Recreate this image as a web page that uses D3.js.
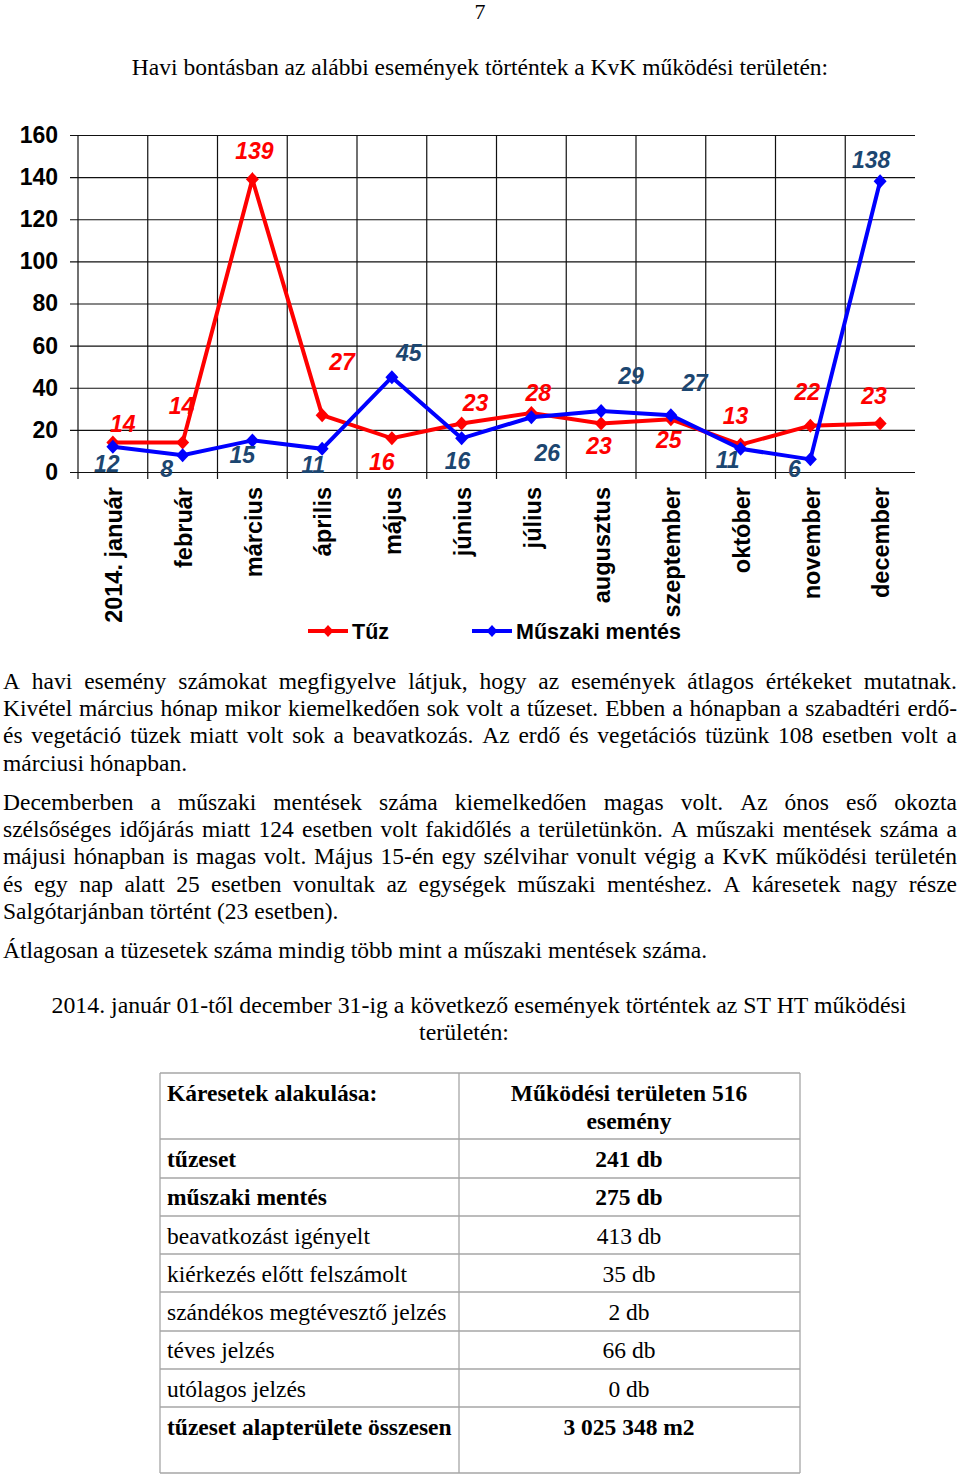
<!DOCTYPE html>
<html>
<head>
<meta charset="utf-8">
<script src="https://cdnjs.cloudflare.com/ajax/libs/d3/7.8.5/d3.min.js"></script>
<style>
  body { margin: 0; background: #fff; }
  svg { display: block; }
</style>
</head>
<body>
<svg id="page" width="960" height="1474"></svg>
<script>
// chart data
var months = ["2014. január", "február", "március", "április", "május", "június",
              "július", "augusztus", "szeptember", "október", "november", "december"];
var tuz = [14, 14, 139, 27, 16, 23, 28, 23, 25, 13, 22, 23];
var muszaki = [12, 8, 15, 11, 45, 16, 26, 29, 27, 11, 6, 138];
var yTicks = [0, 20, 40, 60, 80, 100, 120, 140, 160];

// where each value label sits relative to its point (px)
var tuzLabelOff = [[10,-19],[-1,-37],[2,-29],[20,-53],[-10,23],[14,-21],[7,-20],[-2,22],[-2,20],[-5,-29],[-3,-34],[-6,-28]];
var muszakiLabelOff = [[-6,17],[-16,14],[-10,14],[-9,16],[17,-24],[-4,22],[16,35],[30,-35],[24,-32],[-13,11],[-16,9],[-9,-22]];

// document text
var pageNumber = "7";
var chartTitle = "Havi bontásban az alábbi események történtek a KvK működési területén:";
var paragraphLines = [
  ["A havi esemény számokat megfigyelve látjuk, hogy az események átlagos értékeket mutatnak.", true],
  ["Kivétel március hónap mikor kiemelkedően sok volt a tűzeset. Ebben a hónapban a szabadtéri erdő-", true],
  ["és vegetáció tüzek miatt volt sok a beavatkozás. Az erdő és vegetációs tüzünk 108 esetben volt a", true],
  ["márciusi hónapban.", false],
  ["Decemberben a műszaki mentések száma kiemelkedően magas volt. Az ónos eső okozta", true],
  ["szélsőséges időjárás miatt 124 esetben volt fakidőlés a területünkön. A műszaki mentések száma a", true],
  ["májusi hónapban is magas volt. Május 15-én egy szélvihar vonult végig a KvK működési területén", true],
  ["és egy nap alatt 25 esetben vonultak az egységek műszaki mentéshez. A káresetek nagy része", true],
  ["Salgótarjánban történt (23 esetben).", false],
  ["Átlagosan a tüzesetek száma mindig több mint a műszaki mentések száma.", false]
];
var paragraphY = [681, 708, 735, 763, 802, 829, 856, 884, 911, 950];
var tableTitle = ["2014. január 01-től december 31-ig a következő események történtek az ST HT működési", "területén:"];

var tableHead = ["Káresetek alakulása:", "Működési területen 516", "esemény"];
var tableLabels = ["tűzeset", "műszaki mentés", "beavatkozást igényelt", "kiérkezés előtt felszámolt",
                   "szándékos megtévesztő jelzés", "téves jelzés", "utólagos jelzés", "tűzeset alapterülete összesen"];
var tableValues = ["241 db", "275 db", "413 db", "35 db", "2 db", "66 db", "0 db", "3 025 348 m2"];
var tableBold = [true, true, false, false, false, false, false, true];

var serif = "'Liberation Serif', 'Times New Roman', serif";
var sans = "'Liberation Sans', Arial, sans-serif";
var red = "#ff0000", blue = "#0000ff", blueLabel = "#1c4670";

var svg = d3.select("#page");

// ---------- page header ----------
svg.append("text").attr("x", 480).attr("y", 19).attr("text-anchor", "middle")
   .style("font-family", serif).style("font-size", "22px").text(pageNumber);
svg.append("text").attr("x", 480).attr("y", 75).attr("text-anchor", "middle")
   .style("font-family", serif).style("font-size", "23.5px").text(chartTitle);

// ---------- chart ----------
var x = d3.scaleBand().domain(months).range([78, 915]);
var y = d3.scaleLinear().domain([0, 160]).range([472, 135]);
var cx = function(m) { return x(m) + x.bandwidth() / 2; };

var yAxis = svg.append("g")
    .attr("transform", "translate(70,0)")
    .call(d3.axisLeft(y).tickValues(yTicks).tickSize(-(915 - 70)).tickPadding(12));
yAxis.select(".domain").remove();
yAxis.selectAll("line").attr("stroke", "#111").attr("stroke-width", 1.2);
yAxis.selectAll("text").style("font-family", sans).style("font-size", "23px")
     .style("font-weight", "bold").attr("fill", "#000");

svg.append("g").selectAll("line").data(months).enter().append("line")
   .attr("x1", function(d) { return x(d); }).attr("x2", function(d) { return x(d); })
   .attr("y1", y(160)).attr("y2", y(0) + 7)
   .attr("stroke", "#111").attr("stroke-width", 1.2);

svg.append("g").selectAll("text").data(months).enter().append("text")
   .attr("transform", function(d) { return "translate(" + (cx(d) + 1) + ",487) rotate(-90)"; })
   .attr("text-anchor", "end").attr("dy", "0.35em")
   .style("font-family", sans).style("font-size", "23.5px").style("font-weight", "bold")
   .text(function(d) { return d; });

var diamond = "M0,-7L6.5,0L0,7L-6.5,0Z";
var line = d3.line().x(function(d, i) { return cx(months[i]); }).y(function(d) { return y(d); });

function drawSeries(values, color) {
  var g = svg.append("g");
  g.append("path").datum(values).attr("d", line)
   .attr("fill", "none").attr("stroke", color).attr("stroke-width", 4).attr("stroke-linejoin", "miter");
  g.selectAll("path.pt").data(values).enter().append("path").attr("class", "pt")
   .attr("d", diamond).attr("fill", color)
   .attr("transform", function(d, i) { return "translate(" + cx(months[i]) + "," + y(d) + ")"; });
  return g;
}
function drawLabels(values, labelColor, offs) {
  svg.append("g").selectAll("text").data(values).enter().append("text")
   .attr("x", function(d, i) { return cx(months[i]) + offs[i][0]; })
   .attr("y", function(d, i) { return y(d) + offs[i][1]; })
   .attr("dy", "0.36em").attr("text-anchor", "middle")
   .style("font-family", sans).style("font-size", "23px").style("font-weight", "bold")
   .style("font-style", "italic").attr("fill", labelColor)
   .text(function(d) { return d; });
}
drawSeries(tuz, red);
drawSeries(muszaki, blue);
drawLabels(tuz, red, tuzLabelOff);
drawLabels(muszaki, blueLabel, muszakiLabelOff);

// legend
var legend = [["Tűz", red, 308], ["Műszaki mentés", blue, 472]];
var lg = svg.append("g").selectAll("g").data(legend).enter().append("g")
   .attr("transform", function(d) { return "translate(" + d[2] + ",631)"; });
lg.append("line").attr("x1", 0).attr("x2", 40).attr("stroke", function(d) { return d[1]; }).attr("stroke-width", 4);
lg.append("path").attr("d", "M0,-6L5.5,0L0,6L-5.5,0Z").attr("transform", "translate(20,0)")
  .attr("fill", function(d) { return d[1]; });
lg.append("text").attr("x", 44).attr("dy", "0.36em")
  .style("font-family", sans).style("font-size", "21.5px").style("font-weight", "bold")
  .text(function(d) { return d[0]; });

// ---------- paragraphs (justified by hand) ----------
function textLine(str, xPos, yPos, opts) {
  var t = svg.append("text").attr("x", xPos).attr("y", yPos)
    .style("font-family", serif).style("font-size", opts && opts.size ? opts.size : "23.5px")
    .style("font-weight", opts && opts.bold ? "bold" : "normal")
    .attr("text-anchor", opts && opts.anchor ? opts.anchor : "start")
    .text(str);
  return t;
}
paragraphLines.forEach(function(p, i) {
  var base = paragraphY[i] + 8;
  if (!p[1]) { textLine(p[0], 3, base); return; }
  var words = p[0].split(" ");
  var nodes = words.map(function(w) { return textLine(w, 0, base); });
  var widths = nodes.map(function(n) { return n.node().getComputedTextLength(); });
  var gap = (957 - 3 - d3.sum(widths)) / (words.length - 1);
  var xx = 3;
  nodes.forEach(function(n, k) { n.attr("x", xx); xx += widths[k] + gap; });
});

textLine(tableTitle[0], 479, 1013, {anchor: "middle", size: "23.8px"});
textLine(tableTitle[1], 464, 1040, {anchor: "middle", size: "23.8px"});

// ---------- table ----------
var rowLines = [1073, 1139, 1178, 1216, 1254, 1292, 1331, 1369, 1407, 1473];
var colLines = [160, 459, 800];
var tg = svg.append("g").attr("stroke", "#a6a6a6").attr("stroke-width", 1.3);
tg.selectAll("line.h").data(rowLines).enter().append("line").attr("class", "h")
  .attr("x1", 160).attr("x2", 800).attr("y1", function(d) { return d; }).attr("y2", function(d) { return d; });
tg.selectAll("line.v").data(colLines).enter().append("line").attr("class", "v")
  .attr("y1", 1073).attr("y2", 1473).attr("x1", function(d) { return d; }).attr("x2", function(d) { return d; });

textLine(tableHead[0], 167, 1101, {bold: true});
textLine(tableHead[1], 629, 1101, {bold: true, anchor: "middle"});
textLine(tableHead[2], 629, 1129, {bold: true, anchor: "middle"});
var rowY = [1159, 1197, 1236, 1274, 1312, 1350, 1389, 1427];
tableLabels.forEach(function(l, i) {
  textLine(l, 167, rowY[i] + 8, {bold: tableBold[i]});
  textLine(tableValues[i], 629, rowY[i] + 8, {bold: tableBold[i], anchor: "middle"});
});
</script>
</body>
</html>
